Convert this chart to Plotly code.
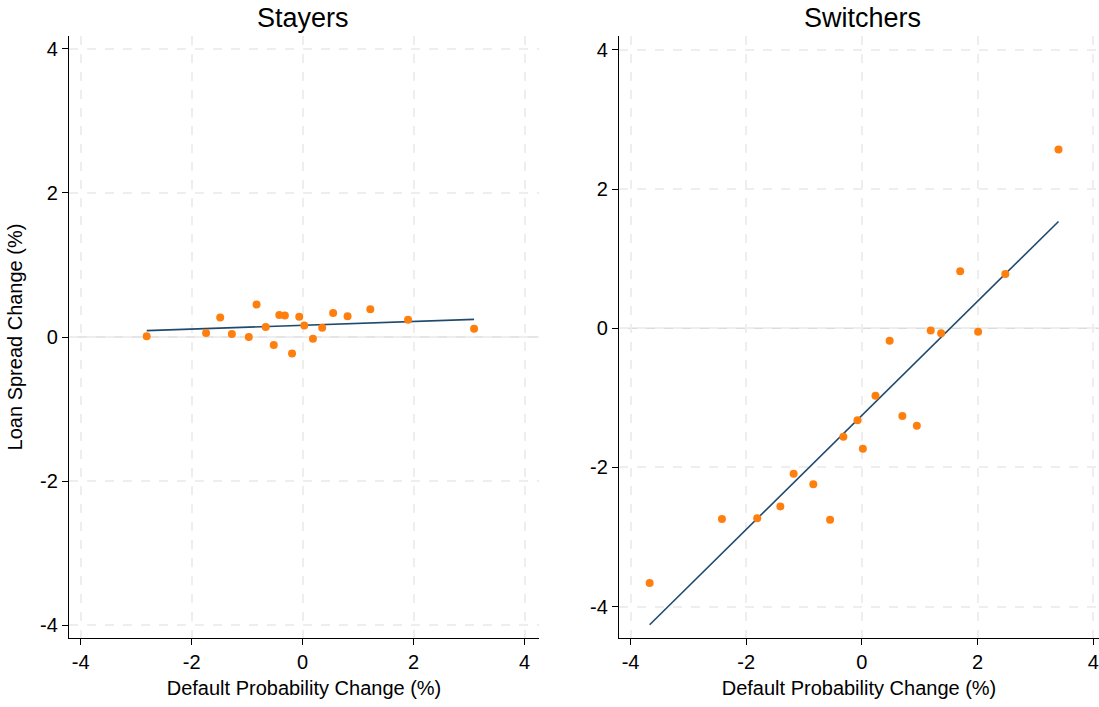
import plotly.graph_objects as go

# ---- data ----
stay_x = [-2.81, -1.74, -1.485, -1.275, -0.97, -0.83, -0.665, -0.52, -0.42, -0.32,
          -0.19, -0.06, 0.03, 0.186, 0.353, 0.55, 0.81, 1.22, 1.90, 3.09]
stay_y = [0.01, 0.055, 0.27, 0.04, 0.0, 0.45, 0.14, -0.11, 0.305, 0.30,
          -0.23, 0.28, 0.16, -0.023, 0.13, 0.333, 0.287, 0.384, 0.24, 0.116]
stay_fit_x = [-2.81, 3.09]
stay_fit_y = [0.088, 0.245]

sw_x = [3.40, 1.70, 2.48, 1.19, 1.37, 2.01, 0.48, 0.235, -0.076, 0.70,
        0.95, -0.32, 0.017, -1.18, -0.84, -1.41, -2.42, -1.81, -0.55, -3.67]
sw_y = [2.57, 0.82, 0.78, -0.03, -0.07, -0.05, -0.18, -0.97, -1.32, -1.26,
        -1.40, -1.56, -1.73, -2.09, -2.24, -2.56, -2.74, -2.73, -2.75, -3.66]
sw_fit_x = [-3.67, 3.40]
sw_fit_y = [-4.26, 1.535]

ticks = [-4, -2, 0, 2, 4]
tick_text = ["-4", "-2", "0", "2", "4"]

ORANGE = "#ff7f0e"
NAVY = "#1f4a6e"
FONT = "Liberation Sans, Arial, sans-serif"
W, H = 1099, 707

fig = go.Figure()
fig.add_trace(go.Scatter(x=stay_fit_x, y=stay_fit_y, mode="lines",
                         line=dict(color=NAVY, width=1.6), xaxis="x", yaxis="y",
                         showlegend=False))
fig.add_trace(go.Scatter(x=stay_x, y=stay_y, mode="markers",
                         marker=dict(color=ORANGE, size=8), xaxis="x", yaxis="y",
                         showlegend=False))
fig.add_trace(go.Scatter(x=sw_fit_x, y=sw_fit_y, mode="lines",
                         line=dict(color=NAVY, width=1.6), xaxis="x2", yaxis="y2",
                         showlegend=False))
fig.add_trace(go.Scatter(x=sw_x, y=sw_y, mode="markers",
                         marker=dict(color=ORANGE, size=8), xaxis="x2", yaxis="y2",
                         showlegend=False))

grid = dict(showgrid=True, gridcolor="#eeeeee", gridwidth=1.5, griddash="dash",
            showline=True, linecolor="black", linewidth=1.3,
            ticks="outside", ticklen=6, tickcolor="black", tickwidth=1,
            tickvals=ticks, ticktext=tick_text,
            tickfont=dict(size=20, color="black", family=FONT),
            ticklabeloverflow="allow",
            zeroline=False)

ydom = [1 - 638 / H, 1 - 36 / H]

fig.update_layout(
    width=W, height=H,
    margin=dict(l=0, r=0, t=0, b=0),
    paper_bgcolor="white", plot_bgcolor="white",
    font=dict(family=FONT, color="black"),
    xaxis=dict(domain=[69 / W, 539 / W], range=[-4.21, 4.26], anchor="y",
               title=dict(text="Default Probability Change (%)", font=dict(size=20), standoff=8),
               **grid),
    yaxis=dict(domain=ydom, range=[-4.18, 4.18], anchor="x",
               title=dict(text="Loan Spread Change (%)", font=dict(size=20), standoff=12),
               **grid),
    xaxis2=dict(domain=[619 / W, 1.0], range=[-4.2, 4.1], anchor="y2",
                title=dict(text="Default Probability Change (%)", font=dict(size=20), standoff=8),
                **grid),
    yaxis2=dict(domain=ydom, range=[-4.45, 4.2], anchor="x2", **grid),
    annotations=[
        dict(text="Stayers", x=303 / W, y=1 - 18 / H, xref="paper", yref="paper",
             xanchor="center", yanchor="middle", showarrow=False,
             font=dict(size=27, color="black")),
        dict(text="Switchers", x=862 / W, y=1 - 18 / H, xref="paper", yref="paper",
             xanchor="center", yanchor="middle", showarrow=False,
             font=dict(size=27, color="black")),
    ],
)

# zero reference lines (solid light gray) at y=0
for xr, yr, x0, x1 in [("x", "y", -4.21, 4.26), ("x2", "y2", -4.2, 4.1)]:
    fig.add_shape(type="line", xref=xr, yref=yr, x0=x0, x1=x1, y0=0, y1=0,
                  line=dict(color="#dcdcdc", width=1.5), layer="below")

fig.write_html("out.html", config={"displayModeBar": False},
               post_script="document.body.style.margin='0';document.body.style.padding='0';")
